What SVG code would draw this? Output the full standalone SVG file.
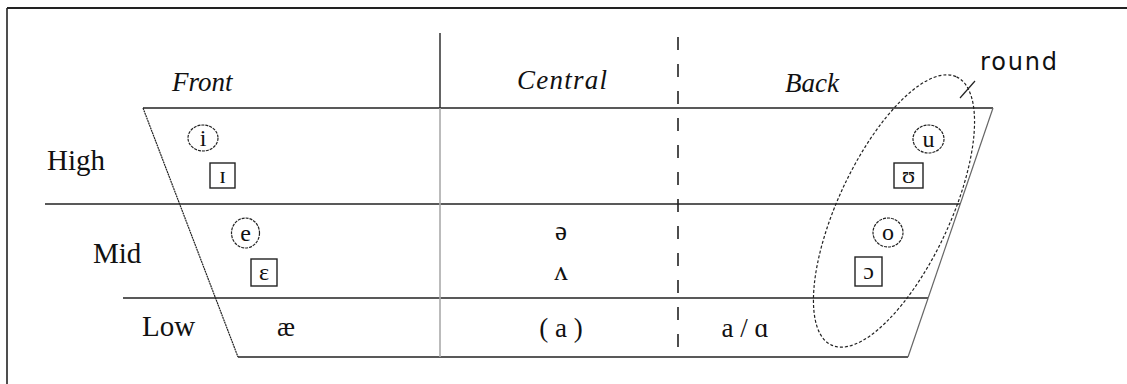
<svg xmlns="http://www.w3.org/2000/svg" width="1127" height="384" viewBox="0 0 1127 384">
<style>
.ln{stroke:#222;stroke-width:1.4;fill:none}
.lbl{font-family:"Liberation Serif","DejaVu Serif",serif;font-size:29px;fill:#111}
.hd{font-family:"Liberation Serif","DejaVu Serif",serif;font-size:27px;font-style:italic;fill:#111}
.ipa{font-family:"Liberation Serif","DejaVu Serif",serif;font-size:27px;fill:#111;text-anchor:middle}
.ipas{font-family:"Liberation Serif","DejaVu Serif",serif;font-size:24px;fill:#111;text-anchor:middle}
.circ{stroke:#222;stroke-width:1.2;fill:none;stroke-dasharray:3 1}
.box{stroke:#222;stroke-width:1.4;fill:none}
</style>
<rect width="1127" height="384" fill="#fff"/>
<g id="frame">
<line class="ln" x1="7" y1="8" x2="1127" y2="8" style="stroke-width:2"/>
<line class="ln" x1="7" y1="8" x2="7" y2="384" style="stroke-width:1.6"/>
</g>
<g id="connectors">
<line class="ln" x1="143" y1="108" x2="993" y2="108"/>
<line class="ln" x1="238" y1="357" x2="908" y2="357"/>
<line class="ln" x1="45" y1="204" x2="960" y2="204"/>
<line class="ln" x1="123" y1="298" x2="928" y2="298"/>
<line class="ln" x1="143" y1="108" x2="238" y2="357" style="stroke-width:1.2;stroke-dasharray:2 0.6"/>
<line class="ln" x1="993" y1="108" x2="908" y2="357" style="stroke:#666;stroke-width:1.2"/>
<line class="ln" x1="440" y1="33" x2="440" y2="108"/>
<line class="ln" x1="440" y1="108" x2="440" y2="357" style="stroke:#aaa;stroke-width:1.6"/>
<line class="ln" x1="678" y1="37" x2="678" y2="357" style="stroke-width:1.6;stroke-dasharray:13 14"/>
<ellipse cx="894" cy="211" rx="148" ry="56" transform="rotate(-65 894 211)" style="fill:none;stroke:#222;stroke-width:1.2;stroke-dasharray:3 2"/>
<line class="ln" x1="960" y1="98" x2="975" y2="81" style="stroke-width:1.2"/>
</g>
<g id="headers">
<text class="hd" x="172" y="91">Front</text>
<text class="hd" x="517" y="89" textLength="90">Central</text>
<text class="hd" x="785" y="92">Back</text>
<text x="980" y="70" textLength="77" style="font-family:'DejaVu Sans',sans-serif;font-size:24px;fill:#111">round</text>
</g>
<g id="rows">
<text class="lbl" x="47" y="170">High</text>
<text class="lbl" x="93" y="263">Mid</text>
<text class="lbl" x="142" y="336">Low</text>
</g>
<g id="front-vowels">
<g id="v-i"><ellipse class="circ" cx="203" cy="138" rx="15" ry="13"/><text class="ipas" x="203" y="146">i</text></g>
<g id="v-I"><rect class="box" x="210" y="163" width="25" height="25"/><text class="ipas" x="222.5" y="183">ɪ</text></g>
<g id="v-e"><ellipse class="circ" cx="245.5" cy="233" rx="14" ry="15"/><text class="ipas" x="245.5" y="241">e</text></g>
<g id="v-E"><rect class="box" x="251" y="259" width="26" height="27"/><text class="ipas" x="264" y="280">ɛ</text></g>
<g id="v-ae"><text class="ipa" x="286" y="336">æ</text></g>
</g>
<g id="central-vowels">
<g id="v-schwa"><text class="ipa" x="561" y="240">ə</text></g>
<g id="v-wedge"><text class="ipa" x="561" y="280">ʌ</text></g>
<g id="v-a"><text class="ipa" x="561" y="337">( a )</text></g>
</g>
<g id="back-vowels">
<g id="v-aa"><text class="ipa" x="745" y="337">a / ɑ</text></g>
<g id="v-u"><ellipse class="circ" cx="928.5" cy="139" rx="15.5" ry="14"/><text class="ipas" x="928.5" y="147">u</text></g>
<g id="v-U"><rect class="box" x="894" y="163" width="29" height="25"/><text class="ipas" x="908.5" y="183">ʊ</text></g>
<g id="v-o"><ellipse class="circ" cx="888" cy="232.5" rx="15" ry="14.5"/><text class="ipas" x="888" y="240">o</text></g>
<g id="v-O"><rect class="box" x="855" y="257" width="27" height="29"/><text class="ipas" x="868.5" y="279">ɔ</text></g>
</g>
</svg>
